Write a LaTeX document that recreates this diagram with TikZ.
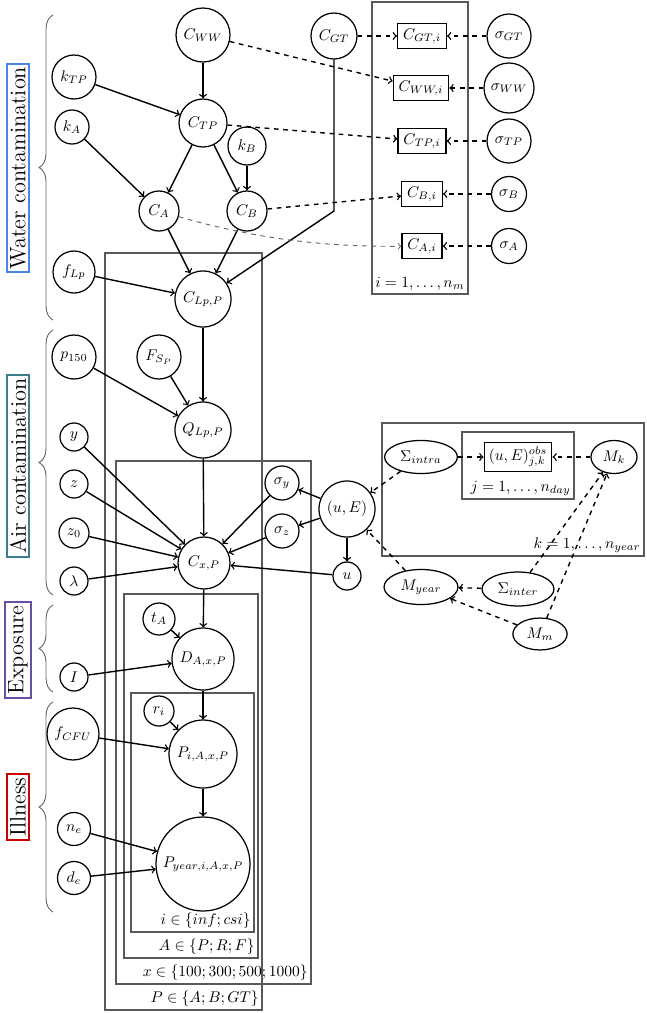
\documentclass[tikz,border=0pt]{standalone}
\usetikzlibrary{shapes.geometric,decorations.pathreplacing}
\definecolor{watercol}{RGB}{74,134,232}
\definecolor{aircol}{RGB}{60,125,140}
\definecolor{expcol}{RGB}{103,78,167}
\definecolor{illcol}{RGB}{204,0,0}
\begin{document}
\begin{tikzpicture}[x=0.645pt,y=-0.645pt,
  var/.style={circle,draw,line width=0.8pt,inner sep=0.5pt,minimum size=#1*1.29pt},
  obs/.style={rectangle,draw,line width=0.8pt,inner xsep=3.5pt,minimum height=16.5pt},
  ell/.style 2 args={ellipse,draw,line width=0.8pt,inner sep=0pt,minimum width=#1,minimum height=#2},
  arr/.style={->,line width=0.9pt},
  darr/.style={->,dashed,line width=0.9pt},
  plate/.style={draw=black!65,line width=0.8pt},
  platelabel/.style={anchor=south east,inner sep=2pt},
  sbrace/.style={decorate,decoration={brace,amplitude=9pt},draw=black!60,line width=0.6pt},
  sect/.style={draw=#1,line width=1.3pt,rotate=90,font=\Large,inner sep=2pt}]
\useasboundingbox (0,0) rectangle (646,1013);

% section labels and braces
\node[sect=watercol] (wlab) at (18,168) {Water contamination};
\node[sect=aircol] (alab) at (18,466) {Air contamination};
\node[sect=expcol] (elab) at (18,650) {Exposure};
\node[sect=illcol] (ilab) at (18,807) {Illness};
\draw[sbrace] (53,320) -- (53,15);
\draw[sbrace] (53,595) -- (53,330);
\draw[sbrace] (53,692) -- (53,605);
\draw[sbrace] (53,912) -- (53,702);

% plates
\draw[plate] (372,2) rectangle (468,294);
\node[platelabel] (lm) at (468,294) {$i=1,\ldots,n_m$};
\draw[plate] (105,253) rectangle (262,1010);
\node[platelabel] (lP) at (262,1010) {$P\in\{A;B;GT\}$};
\draw[plate] (116,461) rectangle (311,984);
\node[platelabel] (lx) at (311,984) {$x\in\{100;300;500;1000\}$};
\draw[plate] (124,594) rectangle (258,958);
\node[platelabel] (lA) at (258,958) {$A\in\{P;R;F\}$};
\draw[plate] (131,693) rectangle (254,932);
\node[platelabel] (li) at (254,932) {$i\in\{inf;csi\}$};
\draw[plate] (382,423) rectangle (644,556);
\node[platelabel] (lk) at (644,556) {$k=1,\ldots,n_{year}$};
\draw[plate] (462,432) rectangle (574,499);
\node[platelabel] (lj) at (574,499) {$j=1,\ldots,n_{day}$};

% water nodes
\node[var=27] (CWW) at (203,35) {$C_{WW}$};
\node[var=22] (kTP) at (74,77) {$k_{TP}$};
\node[var=17] (kA) at (72,127) {$k_A$};
\node[var=24] (CTP) at (203,123) {$C_{TP}$};
\node[var=19] (kB) at (247,146) {$k_B$};
\node[var=20] (CA) at (159,211) {$C_A$};
\node[var=20] (CB) at (247,211) {$C_B$};
\node[var=21] (fLp) at (74,272) {$f_{Lp}$};
\node[var=28] (CLp) at (203,299) {$C_{Lp,P}$};
\node[var=23] (CGT) at (334,36) {$C_{GT}$};
\node[obs] (CGTi) at (422,36) {$C_{GT,i}$};
\node[obs] (CWWi) at (421,88) {$C_{WW,i}$};
\node[obs] (CTPi) at (422,141) {$C_{TP,i}$};
\node[obs] (CBi) at (422,194) {$C_{B,i}$};
\node[obs] (CAi) at (422,246) {$C_{A,i}$};
\node[var=22] (sGT) at (509,36) {$\sigma_{GT}$};
\node[var=25] (sWW) at (509,88) {$\sigma_{WW}$};
\node[var=22] (sTP) at (509,141) {$\sigma_{TP}$};
\node[var=17.5] (sB) at (509,194) {$\sigma_B$};
\node[var=17.5] (sA) at (509,246) {$\sigma_A$};
\coordinate (bend) at (334,211);

% air nodes
\node[var=22] (p150) at (74,357) {$p_{150}$};
\node[var=22] (FSP) at (159,357) {$F_{S_P}$};
\node[var=28] (Q) at (203,430) {$Q_{Lp,P}$};
\node[var=14] (y) at (74,437) {$y$};
\node[var=14] (z) at (74,484) {$z$};
\node[var=15] (z0) at (74,533) {$z_0$};
\node[var=14] (lam) at (74,581) {$\lambda$};
\node[var=26] (Cx) at (204,563) {$C_{x,P}$};
\node[var=17] (sy) at (282,483) {$\sigma_y$};
\node[var=17] (sz) at (282,531) {$\sigma_z$};
\node[var=28] (uE) at (347,509) {$(u,E)$};
\node[var=14] (u) at (347,576) {$u$};
\node[ell={47pt}{21.3pt}] (Sintra) at (421,457) {$\Sigma_{intra}$};
\node[ell={29.7pt}{21.3pt}] (Mk) at (614,457) {$M_k$};
\node[obs,inner xsep=3pt,inner ysep=2pt,minimum height=19pt] (uEobs) at (518,457) {$(u,E)^{obs}_{j,k}$};
\node[ell={47.7pt}{22.6pt}] (Myear) at (421,587) {$M_{year}$};
\node[ell={46.4pt}{21.9pt}] (Sinter) at (518,589) {$\Sigma_{inter}$};
\node[ell={35pt}{20.6pt}] (Mm) at (540,634) {$M_m$};

% exposure / illness nodes
\node[var=16] (tA) at (159,619) {$t_A$};
\node[var=31] (D) at (203,659) {$D_{A,x,P}$};
\node[var=14] (I) at (74,677) {$I$};
\node[var=15] (ri) at (159,711) {$r_i$};
\node[var=26] (fCFU) at (73,734) {$f_{CFU}$};
\node[var=34] (Pi) at (203,754) {$P_{i,A,x,P}$};
\node[var=16.5] (ne) at (74,829) {$n_e$};
\node[var=16.5] (de) at (74,878) {$d_e$};
\node[var=47] (Py) at (203,864) {$P_{year,i,A,x,P}$};

% water edges
\draw[arr] (CWW) -- (CTP);
\draw[arr] (kTP) -- (CTP);
\draw[arr] (kA) -- (CA);
\draw[arr] (CTP) -- (CA);
\draw[arr] (CTP) -- (CB);
\draw[arr] (kB) -- (CB);
\draw[arr] (CA) -- (CLp);
\draw[arr] (CB) -- (CLp);
\draw[arr] (fLp) -- (CLp);
\draw[arr] (CGT) -- (bend) -- (CLp);
\draw[darr] (CGT) -- (CGTi);
\draw[darr] (CWW) -- (CWWi);
\draw[darr] (CTP) -- (CTPi);
\draw[darr] (CB) -- (CBi);
\draw[darr,draw=black!60,line width=0.6pt] (CA) .. controls (260,240) and (330,247) .. (CAi);
\draw[darr] (sGT) -- (CGTi);
\draw[darr] (sWW) -- (CWWi);
\draw[darr] (sTP) -- (CTPi);
\draw[darr] (sB) -- (CBi);
\draw[darr] (sA) -- (CAi);

% air edges
\draw[arr] (CLp) -- (Q);
\draw[arr] (p150) -- (Q);
\draw[arr] (FSP) -- (Q);
\draw[arr] (Q) -- (Cx);
\draw[arr] (y) -- (Cx);
\draw[arr] (z) -- (Cx);
\draw[arr] (z0) -- (Cx);
\draw[arr] (lam) -- (Cx);
\draw[arr] (sy) -- (Cx);
\draw[arr] (sz) -- (Cx);
\draw[arr] (u) -- (Cx);
\draw[arr] (uE) -- (sy);
\draw[arr] (uE) -- (sz);
\draw[arr] (uE) -- (u);
\draw[darr] (Sintra) -- (uEobs);
\draw[darr] (Mk) -- (uEobs);
\draw[darr] (Sintra) -- (uE);
\draw[darr] (Myear) -- (uE);
\draw[darr] (Sinter) -- (Myear);
\draw[darr] (Sinter) -- (Mk);
\draw[darr] (Mm) -- (Myear);
\draw[darr] (Mm) -- (Mk);

% exposure / illness edges
\draw[arr] (Cx) -- (D);
\draw[arr] (tA) -- (D);
\draw[arr] (I) -- (D);
\draw[arr] (D) -- (Pi);
\draw[arr] (ri) -- (Pi);
\draw[arr] (fCFU) -- (Pi);
\draw[arr] (Pi) -- (Py);
\draw[arr] (ne) -- (Py);
\draw[arr] (de) -- (Py);
\end{tikzpicture}
\end{document}
